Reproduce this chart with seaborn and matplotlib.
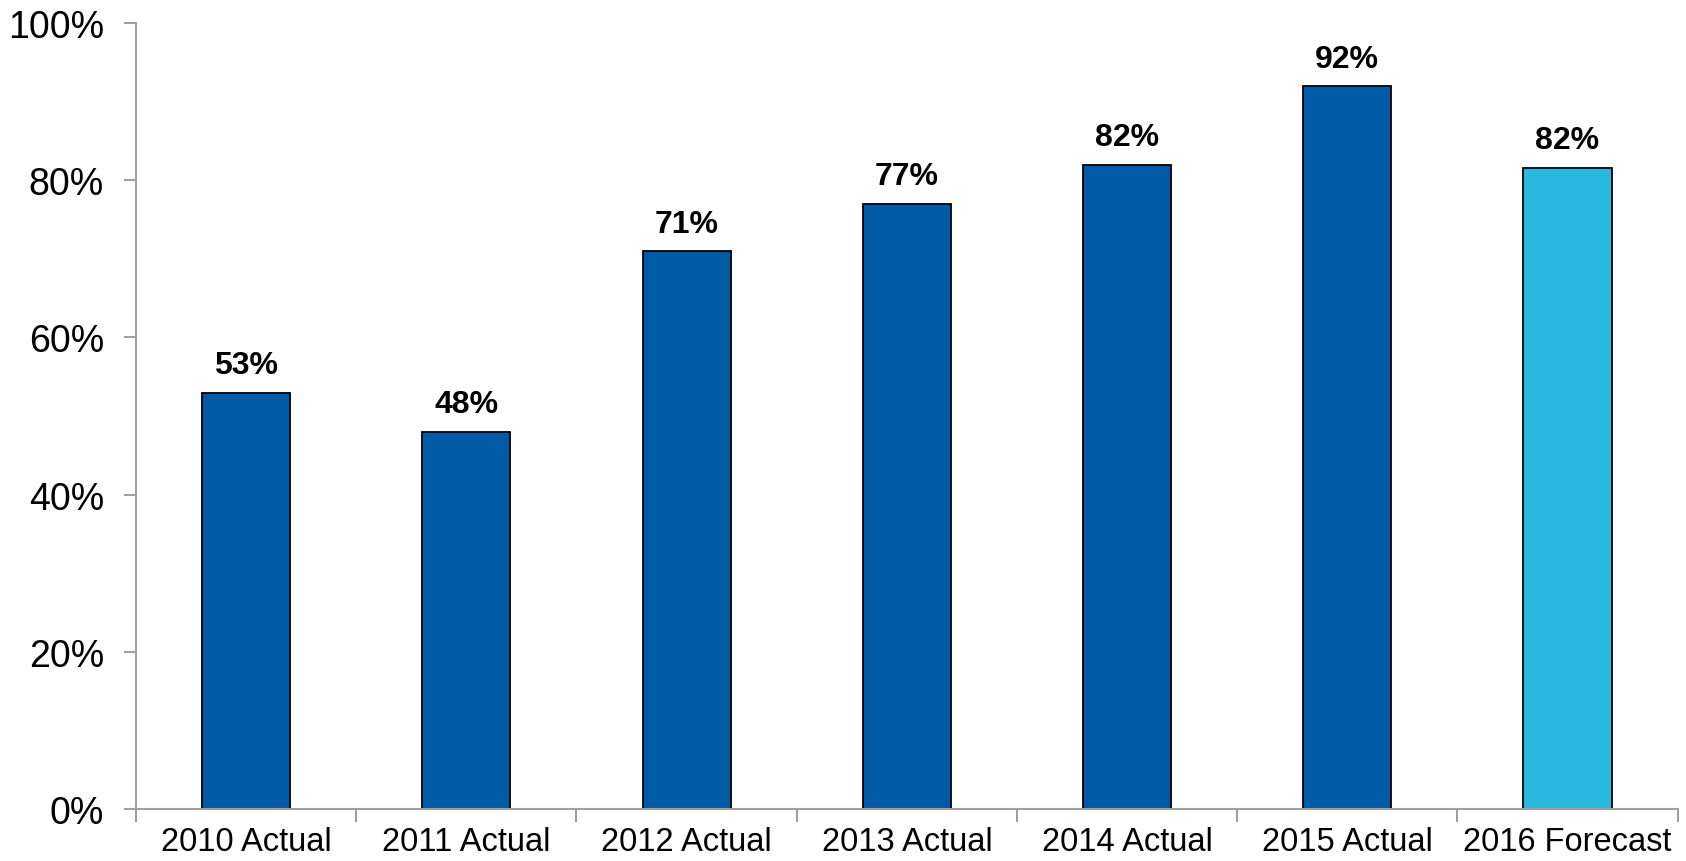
import matplotlib
matplotlib.use("Agg")
import matplotlib.pyplot as plt
import seaborn as sns
import numpy as np

categories = ["2010 Actual", "2011 Actual", "2012 Actual", "2013 Actual",
              "2014 Actual", "2015 Actual", "2016 Forecast"]
values = [53, 48, 71, 77, 82, 92, 81.6]
bar_colors = ["#005AA6"] * 6 + ["#29B8DE"]
y_ticks = [0, 20, 40, 60, 80, 100]

sns.set_style("white")
plt.rcParams["font.family"] = ["Liberation Sans", "DejaVu Sans"]
plt.rcParams["text.color"] = "black"
plt.rcParams["xtick.color"] = "black"
plt.rcParams["ytick.color"] = "black"

fig = plt.figure(figsize=(16.86, 8.62), dpi=100)
ax = fig.add_axes([0.0807, 0.0603, 0.9143, 0.9117])

sns.barplot(x=categories, y=values, hue=categories, palette=bar_colors,
            legend=False, width=0.4, edgecolor="black", linewidth=1.3,
            saturation=1, ax=ax)

for i, v in enumerate(values):
    ax.annotate(f"{v:.0f}%", (i, v), xytext=(0, 9), textcoords="offset points",
                ha="center", va="bottom", fontsize=23, fontweight="bold",
                color="black")

ax.set_xlim(-0.5, len(categories) - 0.5)
ax.set_ylim(0, 100)
ax.set_yticks(y_ticks)
ax.set_yticklabels([f"{t}%" for t in y_ticks], fontsize=27)
ax.set_xticks(range(len(categories)))
ax.set_xticklabels(categories, fontsize=23.5)
ax.set_xticks(np.arange(-0.5, len(categories)), minor=True)
ax.tick_params(axis="x", which="both", bottom=True)
ax.tick_params(axis="x", which="major", length=0, pad=12, labelcolor="black")
ax.tick_params(axis="x", which="minor", length=9, width=1.5, color="#A0A0A0", direction="out")
ax.tick_params(axis="y", left=True, length=9, width=1.5, color="#A0A0A0",
               direction="out", pad=14, labelcolor="black")
ax.set_xlabel("")
ax.set_ylabel("")

for side in ["top", "right"]:
    ax.spines[side].set_visible(False)
for side in ["left", "bottom"]:
    ax.spines[side].set_color("#A0A0A0")
    ax.spines[side].set_linewidth(1.5)

fig.savefig("out.png", dpi=100)
